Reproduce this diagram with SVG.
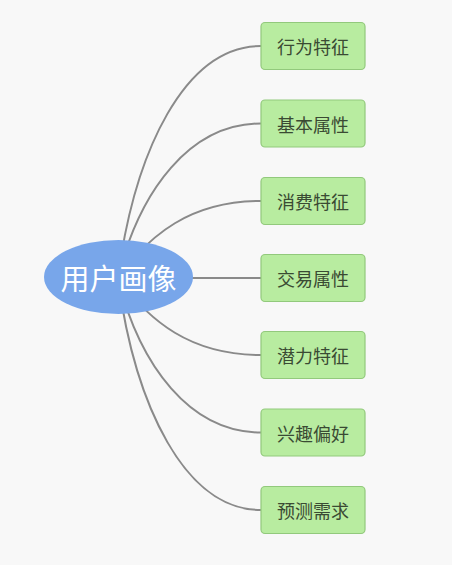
<svg xmlns="http://www.w3.org/2000/svg" width="452" height="565" viewBox="0 0 452 565">
<style>
.c{fill:none;stroke:#8a8a8a;stroke-width:2}
.b{fill:#b8eca0;stroke:#92c97c;stroke-width:1.2}
.t{font-family:"Noto Sans CJK SC","Noto Sans",sans-serif;font-size:18px;fill:#3a4a33;text-anchor:middle;dominant-baseline:central}
.r{font-family:"Noto Sans CJK SC","Noto Sans",sans-serif;font-size:29px;fill:#ffffff;text-anchor:middle;dominant-baseline:central}
</style>
<rect width="452" height="565" fill="#f8f8f8"/>
<g id="connectors">
<path class="c" d="M118,277 C135,150 185,46 261,46"/>
<path class="c" d="M118,277 C140,190 190,123.5 261,123.5"/>
<path class="c" d="M118,277 C150,235 190,201 261,201"/>
<path class="c" d="M118,278 L261,278"/>
<path class="c" d="M118,279 C150,321 190,355 261,355"/>
<path class="c" d="M118,279 C140,366 190,432.5 261,432.5"/>
<path class="c" d="M118,279 C135,406 185,510 261,510"/>
</g>
<g id="root">
<ellipse cx="118.5" cy="277" rx="74.5" ry="37" fill="#78a6ea"/>
<text class="r" x="118.5" y="277">用户画像</text>
</g>
<g id="n1"><rect class="b" x="261" y="22.5" width="104" height="47" rx="4"/><text class="t" x="313" y="46">行为特征</text></g>
<g id="n2"><rect class="b" x="261" y="100" width="104" height="47" rx="4"/><text class="t" x="313" y="123.5">基本属性</text></g>
<g id="n3"><rect class="b" x="261" y="177.5" width="104" height="47" rx="4"/><text class="t" x="313" y="201">消费特征</text></g>
<g id="n4"><rect class="b" x="261" y="254.5" width="104" height="47" rx="4"/><text class="t" x="313" y="278">交易属性</text></g>
<g id="n5"><rect class="b" x="261" y="331.5" width="104" height="47" rx="4"/><text class="t" x="313" y="355">潜力特征</text></g>
<g id="n6"><rect class="b" x="261" y="409" width="104" height="47" rx="4"/><text class="t" x="313" y="432.5">兴趣偏好</text></g>
<g id="n7"><rect class="b" x="261" y="486.5" width="104" height="47" rx="4"/><text class="t" x="313" y="510">预测需求</text></g>
</svg>
